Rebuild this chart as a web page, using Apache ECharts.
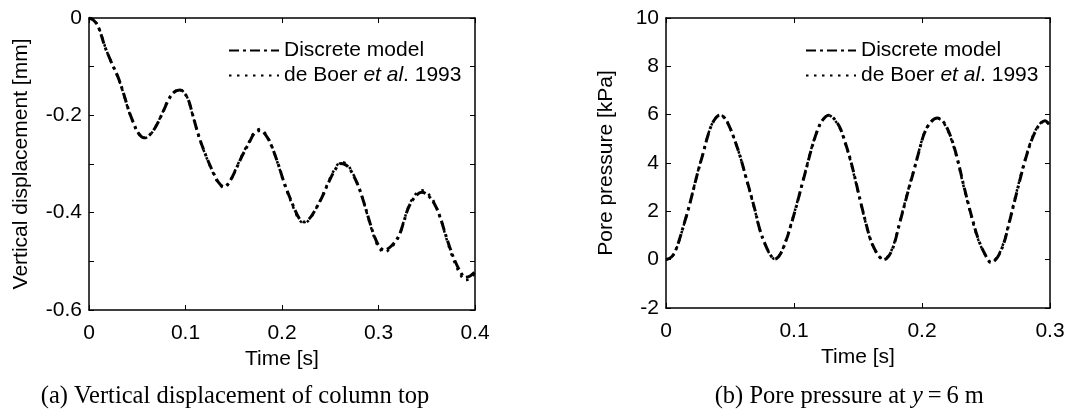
<!DOCTYPE html>
<html>
<head>
<meta charset="utf-8">
<script src="https://cdn.jsdelivr.net/npm/echarts@6/dist/echarts.min.js"></script>
<style>
  html, body { margin: 0; padding: 0; background: #fff; }
  #chart { width: 1069px; height: 413px; }
</style>
</head>
<body>
<div id="chart"></div>
<script>
// Series names
const nameModel = 'Discrete model';
const nameRef = 'de Boer et al. 1993';

// (a) Vertical displacement of column top: [time s, displacement mm]
const dispModel = [
  [0, 0], [0.005, -0.005], [0.010, -0.02], [0.0167, -0.06], [0.023, -0.09], [0.030, -0.121],
  [0.036, -0.156], [0.041, -0.189], [0.046, -0.215], [0.051, -0.236], [0.057, -0.246],
  [0.063, -0.240], [0.069, -0.224], [0.076, -0.196], [0.082, -0.170], [0.088, -0.153],
  [0.094, -0.148], [0.099, -0.155], [0.103, -0.168], [0.108, -0.203], [0.114, -0.244],
  [0.121, -0.282], [0.128, -0.314], [0.134, -0.337], [0.140, -0.347], [0.146, -0.335],
  [0.152, -0.312], [0.159, -0.282], [0.166, -0.256], [0.171, -0.238], [0.177, -0.231],
  [0.183, -0.240], [0.189, -0.262], [0.196, -0.300], [0.202, -0.337], [0.2125, -0.390],
  [0.218, -0.412], [0.223, -0.419], [0.228, -0.413], [0.233, -0.399], [0.241, -0.370],
  [0.248, -0.339], [0.255, -0.312], [0.261, -0.299], [0.267, -0.303], [0.272, -0.316],
  [0.279, -0.345], [0.285, -0.380], [0.291, -0.420], [0.296, -0.450], [0.301, -0.470],
  [0.306, -0.477], [0.313, -0.469], [0.321, -0.448], [0.326, -0.420], [0.331, -0.390],
  [0.338, -0.367], [0.345, -0.358], [0.351, -0.364], [0.358, -0.382], [0.364, -0.410],
  [0.369, -0.442], [0.374, -0.472], [0.379, -0.498], [0.385, -0.522], [0.390, -0.533],
  [0.395, -0.530], [0.400, -0.521]
];
const dispRef = [
  [0, 0], [0.005, -0.004], [0.010, -0.019], [0.0167, -0.059], [0.023, -0.091], [0.030, -0.122],
  [0.036, -0.157], [0.041, -0.190], [0.046, -0.216], [0.051, -0.237], [0.057, -0.247],
  [0.063, -0.241], [0.069, -0.223], [0.076, -0.195], [0.082, -0.168], [0.088, -0.152],
  [0.094, -0.147], [0.099, -0.154], [0.103, -0.169], [0.108, -0.204], [0.114, -0.245],
  [0.121, -0.283], [0.128, -0.316], [0.134, -0.339], [0.140, -0.349], [0.146, -0.336],
  [0.152, -0.311], [0.159, -0.280], [0.166, -0.254], [0.171, -0.236], [0.177, -0.228],
  [0.183, -0.238], [0.189, -0.261], [0.196, -0.301], [0.202, -0.339], [0.2125, -0.393],
  [0.218, -0.415], [0.223, -0.422], [0.228, -0.415], [0.233, -0.400], [0.241, -0.369],
  [0.248, -0.337], [0.255, -0.309], [0.261, -0.296], [0.267, -0.300], [0.272, -0.314],
  [0.279, -0.344], [0.285, -0.381], [0.291, -0.422], [0.296, -0.453], [0.301, -0.474],
  [0.306, -0.481], [0.313, -0.472], [0.321, -0.449], [0.326, -0.419], [0.331, -0.388],
  [0.338, -0.363], [0.345, -0.354], [0.351, -0.360], [0.358, -0.380], [0.364, -0.410],
  [0.369, -0.444], [0.374, -0.476], [0.379, -0.503], [0.385, -0.528], [0.390, -0.539],
  [0.395, -0.535], [0.400, -0.524]
];

// (b) Pore pressure at y = 6 m: [time s, pressure kPa]
const presModel = [
  [0, 0], [0.004, 0.1], [0.007, 0.33], [0.010, 0.75], [0.0135, 1.37], [0.0175, 2.1],
  [0.0213, 2.88], [0.025, 3.65], [0.029, 4.40], [0.034, 5.35], [0.038, 5.80], [0.042, 5.98],
  [0.046, 5.85], [0.050, 5.45], [0.054, 4.9], [0.058, 4.26], [0.062, 3.5], [0.066, 2.75],
  [0.070, 1.95], [0.073, 1.30], [0.077, 0.70], [0.081, 0.25], [0.085, 0.02], [0.089, 0.20],
  [0.094, 0.82], [0.098, 1.5], [0.102, 2.25], [0.106, 3.05], [0.110, 3.85], [0.114, 4.65],
  [0.118, 5.3], [0.122, 5.75], [0.127, 5.98], [0.131, 5.85], [0.136, 5.45], [0.140, 4.85],
  [0.144, 4.15], [0.148, 3.30], [0.152, 2.40], [0.156, 1.55], [0.160, 0.80], [0.165, 0.25],
  [0.170, 0.0], [0.174, 0.15], [0.178, 0.60], [0.182, 1.40], [0.186, 2.20], [0.190, 3.0],
  [0.194, 3.75], [0.198, 4.55], [0.202, 5.25], [0.207, 5.70], [0.212, 5.86], [0.216, 5.75],
  [0.220, 5.40], [0.224, 4.85], [0.228, 4.10], [0.232, 3.20], [0.236, 2.35], [0.240, 1.55],
  [0.244, 0.85], [0.249, 0.25], [0.254, -0.12], [0.259, 0.10], [0.264, 0.70], [0.268, 1.50],
  [0.272, 2.35], [0.276, 3.20], [0.280, 4.00], [0.284, 4.70], [0.288, 5.25], [0.292, 5.60],
  [0.296, 5.75], [0.300, 5.55]
];
const presRef = [
  [0, 0], [0.004, 0.09], [0.007, 0.32], [0.010, 0.74], [0.0135, 1.36], [0.0175, 2.1],
  [0.0213, 2.89], [0.025, 3.67], [0.029, 4.42], [0.034, 5.36], [0.038, 5.81], [0.042, 5.99],
  [0.046, 5.86], [0.050, 5.46], [0.054, 4.9], [0.058, 4.25], [0.062, 3.48], [0.066, 2.72],
  [0.070, 1.92], [0.073, 1.28], [0.077, 0.68], [0.081, 0.24], [0.085, 0.03], [0.089, 0.22],
  [0.094, 0.85], [0.098, 1.53], [0.102, 2.28], [0.106, 3.08], [0.110, 3.88], [0.114, 4.68],
  [0.118, 5.32], [0.122, 5.76], [0.127, 5.97], [0.131, 5.83], [0.136, 5.42], [0.140, 4.82],
  [0.144, 4.11], [0.148, 3.26], [0.152, 2.36], [0.156, 1.52], [0.160, 0.78], [0.165, 0.24],
  [0.170, 0.02], [0.174, 0.18], [0.178, 0.64], [0.182, 1.44], [0.186, 2.24], [0.190, 3.04],
  [0.194, 3.79], [0.198, 4.58], [0.202, 5.27], [0.207, 5.71], [0.212, 5.84], [0.216, 5.72],
  [0.220, 5.36], [0.224, 4.80], [0.228, 4.05], [0.232, 3.15], [0.236, 2.30], [0.240, 1.50],
  [0.244, 0.82], [0.249, 0.23], [0.254, -0.10], [0.259, 0.13], [0.264, 0.74], [0.268, 1.55],
  [0.272, 2.40], [0.276, 3.25], [0.280, 4.05], [0.284, 4.74], [0.288, 5.28], [0.292, 5.62],
  [0.296, 5.74], [0.300, 5.52]
];

// Axis ranges and tick steps
const dispTimeAxis = { min: 0, max: 0.4, interval: 0.1 };
const dispValueAxis = { min: -0.6, max: 0, interval: 0.1 };
const presTimeAxis = { min: 0, max: 0.3, interval: 0.1 };
const presValueAxis = { min: -2, max: 10, interval: 2 };

const SANS = '"Liberation Sans", Arial, sans-serif';
const SERIF = '"Liberation Serif", "Times New Roman", serif';
const FS = 21;
const CAP_FS = 24.5;

const fmtNum = v => {
  const r = Math.round(v * 1000) / 1000;
  return r === 0 ? '0' : String(r);
};

function mainX(gi, rng) {
  return {
    type: 'value', gridIndex: gi, position: 'bottom', min: rng.min, max: rng.max, interval: rng.interval,
    name: 'Time [s]', nameLocation: 'middle', nameGap: 37,
    nameTextStyle: { fontFamily: SANS, fontSize: FS, color: '#000' },
    axisLine: { show: true, onZero: false, lineStyle: { color: '#000', width: 1.5 } },
    axisTick: { show: true, inside: true, length: 5, lineStyle: { color: '#000', width: 1 } },
    axisLabel: { fontFamily: SANS, fontSize: FS, color: '#000', margin: 13, formatter: fmtNum },
    splitLine: { show: false }
  };
}
function frameX(gi, rng) {
  return {
    type: 'value', gridIndex: gi, position: 'top', min: rng.min, max: rng.max, interval: rng.interval,
    axisLine: { show: true, onZero: false, lineStyle: { color: '#000', width: 1.5 } },
    axisTick: { show: true, inside: true, length: 5, lineStyle: { color: '#000', width: 1 } },
    axisLabel: { show: false }, splitLine: { show: false }
  };
}
function mainY(gi, rng, name, gap, labelFmt) {
  return {
    type: 'value', gridIndex: gi, position: 'left', min: rng.min, max: rng.max, interval: rng.interval,
    name: name, nameLocation: 'middle', nameGap: gap,
    nameTextStyle: { fontFamily: SANS, fontSize: FS, color: '#000' },
    axisLine: { show: true, onZero: false, lineStyle: { color: '#000', width: 1.5 } },
    axisTick: { show: true, inside: true, length: 5, lineStyle: { color: '#000', width: 1 } },
    axisLabel: { fontFamily: SANS, fontSize: FS, color: '#000', margin: 7, formatter: labelFmt },
    splitLine: { show: false }
  };
}
function frameY(gi, rng) {
  return {
    type: 'value', gridIndex: gi, position: 'right', min: rng.min, max: rng.max, interval: rng.interval,
    axisLine: { show: true, onZero: false, lineStyle: { color: '#000', width: 1.5 } },
    axisTick: { show: true, inside: true, length: 5, lineStyle: { color: '#000', width: 1 } },
    axisLabel: { show: false }, splitLine: { show: false }
  };
}

const dashDot = { color: '#000', width: 3, type: [10, 4, 3, 4] };
const dotted = { color: '#000', width: 2.5, type: [2.5, 5.5], cap: 'butt' };

function curve(name, data, xi, yi, style, z) {
  return {
    type: 'line', name: name, data: data, xAxisIndex: xi, yAxisIndex: yi,
    symbol: 'none', smooth: 0.35, lineStyle: style, itemStyle: { color: '#000' }, z: z,
    animation: false
  };
}

const legendText = {
  fontFamily: SANS, fontSize: FS, color: '#000',
  rich: {
    n: { fontFamily: SANS, fontSize: FS, color: '#000' },
    i: { fontFamily: SANS, fontSize: FS, color: '#000', fontStyle: 'italic' }
  }
};
const legendFmt = n => n === nameRef ? '{n|de Boer }{i|et al}{n|. 1993}' : '{n|' + n + '}';

function legendAt(left) {
  return {
    orient: 'vertical', left: left, top: 35, itemWidth: 50, itemHeight: 14, itemGap: 4,
    data: [nameModel, nameRef], textStyle: legendText, formatter: legendFmt,
    itemStyle: { opacity: 0 },
    selectedMode: false, inactiveColor: '#000'
  };
}

// Captions with italic variable names, centred under each panel
const capA = '{n|(a) Vertical displacement of column top}';
const capB = '{n|(b) Pore pressure at }{i|y}{n|\u2009=\u20096 m}';
const capRich = {
  n: { fontFamily: SERIF, fontSize: CAP_FS, color: '#000' },
  i: { fontFamily: SERIF, fontSize: CAP_FS, fontStyle: 'italic', color: '#000' }
};
const ctx = document.createElement('canvas').getContext('2d');
ctx.font = CAP_FS + 'px ' + SERIF;
const wA = ctx.measureText('(a) Vertical displacement of column top').width;
const wB = ctx.measureText('(b) Pore pressure at y\u2009=\u20096 m').width;

const chart = echarts.init(document.getElementById('chart'), null, { renderer: 'canvas' });
chart.setOption({
  animation: false,
  backgroundColor: '#fff',
  grid: [
    { left: 89, top: 18, width: 386, height: 292 },
    { left: 666, top: 18, width: 384, height: 290 }
  ],
  xAxis: [
    mainX(0, dispTimeAxis), frameX(0, dispTimeAxis),
    mainX(1, presTimeAxis), frameX(1, presTimeAxis)
  ],
  yAxis: [
    mainY(0, dispValueAxis, 'Vertical displacement [mm]', 57,
      v => (Math.round(Math.abs(v) * 10) % 2 === 0 ? fmtNum(v) : '')),
    frameY(0, dispValueAxis),
    mainY(1, presValueAxis, 'Pore pressure [kPa]', 49, fmtNum),
    frameY(1, presValueAxis)
  ],
  legend: [legendAt(223), legendAt(800)],
  series: [
    curve(nameRef, dispRef, 0, 0, dotted, 2),
    curve(nameModel, dispModel, 0, 0, dashDot, 3),
    curve(nameRef, presRef, 2, 2, dotted, 2),
    curve(nameModel, presModel, 2, 2, dashDot, 3)
  ],
  graphic: [
    {
      type: 'text', left: 235 - wA / 2, top: 384, silent: true,
      style: { text: capA, rich: capRich, fill: '#000' }
    },
    {
      type: 'text', left: 850 - wB / 2, top: 384, silent: true,
      style: { text: capB, rich: capRich, fill: '#000' }
    }
  ]
});
</script>
</body>
</html>
